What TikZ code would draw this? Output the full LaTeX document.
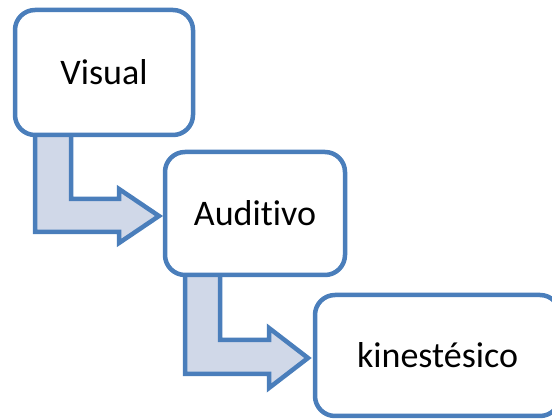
\documentclass[tikz,border=0pt]{standalone}
\usepackage{fontspec}
\setmainfont{Carlito}[RawFeature={-liga;-clig;-dlig}]
\definecolor{boxblue}{RGB}{74,126,187}
\definecolor{arrowfill}{RGB}{208,216,232}
\begin{document}
\begin{tikzpicture}[x=1pt,y=-1pt,
  stagebox/.style={draw=boxblue, line width=4.5pt, fill=white, rounded corners=20pt,
    inner sep=0pt, font=\fontsize{36}{40}\selectfont},
  bentarrow/.style={draw=boxblue, line width=4.5pt, fill=arrowfill, line join=miter}]
\useasboundingbox (0,0) rectangle (552,419);
% bent arrows (behind the boxes)
\draw[bentarrow] (35,130) -- (35,232) -- (119,232) -- (119,243) -- (159,216)
  -- (119,189) -- (119,199) -- (71,199) -- (71,130) -- cycle;
\draw[bentarrow] (185,270) -- (185,374) -- (269,374) -- (269,388) -- (308,358)
  -- (269,328) -- (269,340) -- (220,340) -- (220,270) -- cycle;
% boxes
\node[stagebox, minimum width=178pt, minimum height=125pt] (v) at (104,72.5) {Visual};
\node[stagebox, minimum width=180pt, minimum height=123pt] (a) at (255,213.5) {Auditivo};
\node[stagebox, minimum width=245pt, minimum height=121pt] (k) at (437.5,355.5) {kinestésico};
\end{tikzpicture}
\end{document}
